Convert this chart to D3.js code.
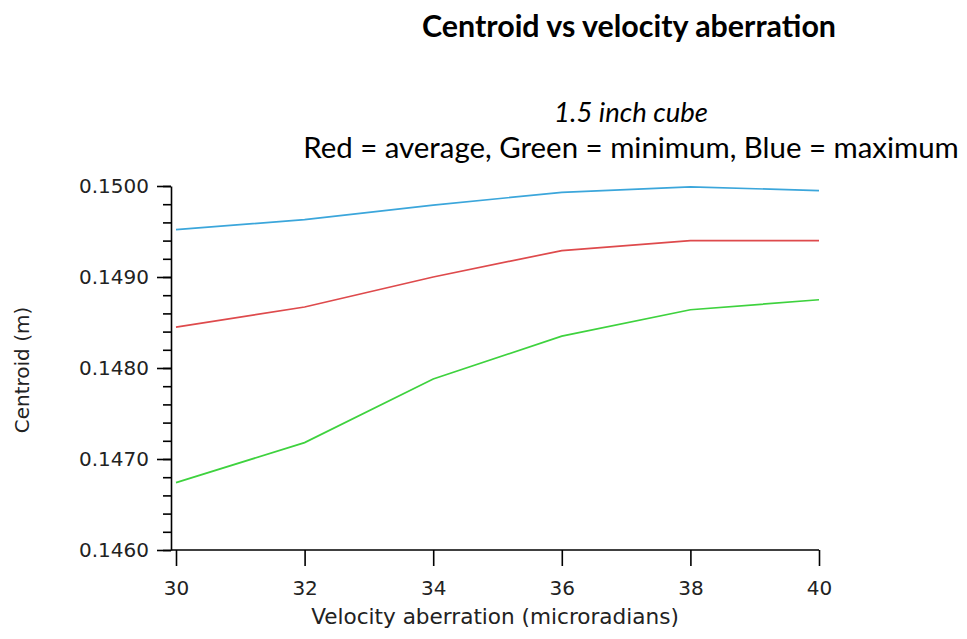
<!DOCTYPE html>
<html>
<head>
<meta charset="utf-8">
<script src="https://cdn.jsdelivr.net/npm/d3@7"></script>
<style>
  html, body { margin: 0; padding: 0; background: #fff; }
  svg { display: block; }
</style>
</head>
<body>
<svg id="chart" width="967" height="639"></svg>
<script>
// Velocity aberration (microradians)
const aberration = [30, 32, 34, 36, 38, 40];
// Centroid (m) for each statistic
const centroidMax = [0.14952, 0.14963, 0.14979, 0.14993, 0.14999, 0.14995];
const centroidAvg = [0.14845, 0.14867, 0.14900, 0.14929, 0.14940, 0.14940];
const centroidMin = [0.14674, 0.14718, 0.14788, 0.14835, 0.14864, 0.14875];

const xTicks = [30, 32, 34, 36, 38, 40];
const yTicks = [0.1460, 0.1470, 0.1480, 0.1490, 0.1500];
const yMinorTicks = d3.range(0, 21).map(i => 0.1460 + i * 0.0002);

const seriesList = [
  { name: "maximum", values: centroidMax, color: "#3ba6db" },
  { name: "average", values: centroidAvg, color: "#de4a4c" },
  { name: "minimum", values: centroidMin, color: "#3ed23e" }
];

const svg = d3.select("#chart");
const tickFont = "'DejaVu Sans', Verdana, sans-serif";
const titleFont = "Lato, 'Open Sans', sans-serif";

const x = d3.scaleLinear().domain([30, 40]).range([176, 819]);
const y = d3.scaleLinear().domain([0.1460, 0.1500]).range([550, 186]);
const axisX = 171;

// Scale a text's font size so that it spans the given width
function fitWidth(sel, width) {
  const base = parseFloat(sel.style("font-size"));
  const len = sel.node().getComputedTextLength();
  sel.style("font-size", (base * width / len).toFixed(2) + "px");
}

// Titles
svg.append("text")
  .attr("x", 629).attr("y", 37)
  .attr("text-anchor", "middle")
  .style("font-family", titleFont).style("font-weight", "bold").style("font-size", "24px")
  .text("Centroid vs velocity aberration")
  .call(fitWidth, 414);

svg.append("text")
  .attr("x", 631).attr("y", 122)
  .attr("text-anchor", "middle")
  .style("font-family", titleFont).style("font-style", "italic").style("font-size", "24px")
  .text("1.5 inch cube")
  .call(fitWidth, 154);

svg.append("text")
  .attr("x", 631).attr("y", 158)
  .attr("text-anchor", "middle")
  .style("font-family", titleFont).style("font-size", "24px")
  .text("Red = average, Green = minimum, Blue = maximum")
  .call(fitWidth, 656);

// Y axis: minor ticks, then major ticks with labels
svg.append("g")
  .attr("transform", `translate(${axisX},0)`)
  .call(d3.axisLeft(y).tickValues(yMinorTicks).tickSize(8).tickSizeOuter(0).tickFormat(""))
  .call(g => g.select(".domain").remove());

const yAxis = svg.append("g")
  .attr("transform", `translate(${axisX},0)`)
  .call(d3.axisLeft(y).tickValues(yTicks).tickSize(14).tickSizeOuter(0).tickPadding(8)
    .tickFormat(d3.format(".4f")));
yAxis.selectAll("text").style("font-family", tickFont).style("font-size", "20px").attr("fill", "#222");

// X axis
const xAxis = svg.append("g")
  .attr("transform", `translate(0,${y(0.1460)})`)
  .call(d3.axisBottom(x).tickValues(xTicks).tickSize(16).tickSizeOuter(0).tickPadding(15)
    .tickFormat(d3.format("d")));
xAxis.select(".domain").remove();
xAxis.selectAll("text").style("font-family", tickFont).style("font-size", "20px").attr("fill", "#222");

svg.append("line")
  .attr("x1", axisX).attr("x2", x(40))
  .attr("y1", y(0.1460)).attr("y2", y(0.1460))
  .attr("stroke", "#000").attr("stroke-width", 1.6);

svg.selectAll(".domain, .tick line").attr("stroke", "#000").attr("stroke-width", 1.6);

// Axis titles
svg.append("text")
  .attr("x", 495).attr("y", 624)
  .attr("text-anchor", "middle")
  .style("font-family", tickFont).style("font-size", "20px").attr("fill", "#222")
  .text("Velocity aberration (microradians)")
  .call(fitWidth, 368);

svg.append("text")
  .attr("transform", `translate(29,370) rotate(-90)`)
  .attr("text-anchor", "middle")
  .style("font-family", tickFont).style("font-size", "20px").attr("fill", "#222")
  .text("Centroid (m)");

// Series lines
const line = d3.line()
  .x((d, i) => x(aberration[i]))
  .y(d => y(d));

svg.selectAll(".series")
  .data(seriesList)
  .join("path")
  .attr("class", "series")
  .attr("d", s => line(s.values))
  .attr("fill", "none")
  .attr("stroke", s => s.color)
  .attr("stroke-width", 1.7);
</script>
</body>
</html>
